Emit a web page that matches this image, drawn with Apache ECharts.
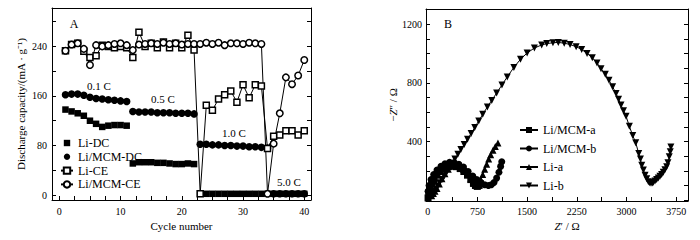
<!DOCTYPE html>
<html><head><meta charset="utf-8">
<script src="https://cdn.jsdelivr.net/npm/echarts@6/dist/echarts.min.js"></script>
<style>html,body{margin:0;padding:0;background:#fff}#c{width:700px;height:240px}</style>
</head><body><div id="c"></div><script>
// ---------- Panel A data ----------
const cycles = [1,2,3,4,5,6,7,8,9,10,11,12,13,14,15,16,17,18,19,20,21,22,23,24,25,26,27,28,29,30,31,32,33,34,35,36,37,38,39,40];
const liDC = [138,135,132,128,120,115,110,112,113,113,112,51,53,53,53,52,52,51,50,50,51,50,2,2,2,2,2,2,2,2,2,2,2,2,2,2,2,2,2,2];
const liMcmDC = [162,163,163,161,158,156,155,154,153,152,151,135,134,134,134,133,133,133,132,132,132,131,82,82,81,81,80,80,79,79,78,78,77,76,2,2,2,2,2,2];
const liCE = [233,243,245,232,222,225,242,240,238,240,238,222,263,240,245,238,247,238,245,238,258,234,2,145,137,155,162,168,150,178,157,178,176,75,95,97,104,104,97,104];
const liMcmCE = [233,243,245,236,210,242,240,242,244,245,242,234,243,244,245,244,246,244,245,243,244,244,244,246,244,246,242,245,245,244,246,245,244,2,83,132,190,179,193,218];
const aXLabels = [0,10,20,30,40];
const aYLabels = [0,80,160,240];
const rateLabels = ['0.1 C','0.5 C','1.0 C','5.0 C'];

// ---------- Panel B data (Z', -Z'') ----------
const liMcmA = [[5,15],[15,45],[35,80],[60,110],[95,140],[140,170],[190,195],[250,215],[310,228],[370,232],[430,228],[490,215],[545,195],[600,170],[650,140],[690,115],[720,100],[750,95],[775,100],[795,112]];
const liMcmB = [[5,60],[20,100],[50,140],[90,175],[140,205],[200,230],[260,248],[330,258],[400,256],[470,245],[540,225],[610,195],[680,165],[740,140],[800,120],[860,105],[915,100],[960,105],[1000,120],[1040,150],[1075,190],[1100,230],[1117,262]];
const liA = [[60,30],[85,45],[110,60],[140,80],[175,110],[215,145],[260,180],[310,210],[365,232],[420,240],[480,232],[540,210],[600,180],[650,145],[690,115],[720,100],[745,95],[770,110],[800,140],[830,175],[860,210],[890,245],[920,280],[950,310],[985,340],[1020,365],[1060,390]];
const liB = [[20,10],[45,25],[70,40],[95,58],[120,75],[150,95],[180,118],[215,140],[250,165],[290,193],[330,222],[370,250],[410,280],[455,312],[500,345],[550,380],[600,415],[655,455],[710,495],[770,540],[830,585],[900,635],[966,680],[1040,730],[1120,785],[1200,840],[1300,905],[1400,960],[1500,1003],[1610,1037],[1720,1058],[1796,1067],[1890,1073],[1971,1075],[2060,1070],[2148,1061],[2240,1046],[2324,1027],[2405,1000],[2484,970],[2555,935],[2615,896],[2680,858],[2736,817],[2790,773],[2842,727],[2880,688],[2917,648],[2955,610],[2993,572],[3043,504],[3094,440],[3139,391],[3185,317],[3210,280],[3230,238],[3255,205],[3280,170],[3305,145],[3330,126],[3350,118],[3370,115],[3390,117],[3405,121],[3430,130],[3455,140],[3480,150],[3505,162],[3530,175],[3555,190],[3580,207],[3606,227],[3625,255],[3645,295],[3660,330],[3670,362]];
const bXLabels = [0,750,1500,2250,3000,3750];
const bYLabels = [400,800,1200];

const FF = '"Liberation Serif","Times New Roman",serif';
const aXTicks = []; for (let v = 0; v <= 40; v += 2.5) aXTicks.push(v);
const aYTicks = []; for (let v = 0; v <= 280; v += 40) aYTicks.push(v);
const bXTicks = []; for (let v = 0; v <= 3750; v += 375) bXTicks.push(v);
const bYTicks = []; for (let v = 0; v <= 1300; v += 100) bYTicks.push(v);

function axisBase(grid, pos, min, max, ticks, labels, margin, showLabels) {
  return {
    type: 'value', gridIndex: grid, position: pos, min: min, max: max,
    axisLine: {show: true, onZero: false, lineStyle: {color: '#000', width: 1}},
    axisTick: {show: true, inside: true, length: 4, lineStyle: {color: '#000'}, customValues: ticks},
    axisLabel: {show: showLabels, customValues: labels, color: '#000', fontFamily: FF, fontSize: 10, margin: margin,
                formatter: function (v) { return String(v); }},
    splitLine: {show: false}
  };
}

function aSeries(name, vals, sym, size, filled, line) {
  return {
    name: name, type: 'line', xAxisIndex: 0, yAxisIndex: 0,
    data: cycles.map((c, i) => [c, vals[i]]),
    symbol: sym, symbolSize: size, showSymbol: true, showAllSymbol: true,
    itemStyle: filled ? {color: '#000', borderColor: '#000', borderWidth: 0} : {color: '#fff', borderColor: '#000', borderWidth: 1.5},
    lineStyle: line ? {color: '#000', width: 1} : {color: '#000', width: 0, opacity: 0},
    emphasis: {disabled: true}, z: filled ? 3 : 4
  };
}
function bSeries(name, pts, sym, rot) {
  return {
    name: name, type: 'line', xAxisIndex: 2, yAxisIndex: 2, data: pts,
    symbol: sym, symbolSize: 7, symbolRotate: rot, showAllSymbol: true,
    itemStyle: {color: '#000'}, lineStyle: {color: '#000', width: 1},
    emphasis: {disabled: true}
  };
}

const chart = echarts.init(document.getElementById('c'), null, {renderer: 'svg'});
const xa = axisBase(0, 'bottom', -1.2, 41.1, aXTicks, aXLabels, 6, true);
xa.name = 'Cycle number'; xa.nameLocation = 'middle'; xa.nameGap = 15;
xa.nameTextStyle = {color: '#000', fontFamily: FF, fontSize: 11};
const ya = axisBase(0, 'left', -8, 302, aYTicks, aYLabels, 5, true);
ya.name = 'Discharge capacity/(mA · g⁻¹)'; ya.nameLocation = 'middle'; ya.nameGap = 26;
ya.nameTextStyle = {color: '#000', fontFamily: FF, fontSize: 11};
const xb = axisBase(1, 'bottom', -26, 3928, bXTicks, bXLabels, 5, true);
xb.name = '{i|Z}′ / Ω'; xb.nameLocation = 'middle'; xb.nameGap = 18;
xb.nameTextStyle = {color: '#000', fontFamily: FF, fontSize: 11, padding: [0, 0, 0, 20], rich: {i: {fontStyle: 'italic', fontFamily: FF, fontSize: 11, color: '#000'}}};
const yb = axisBase(1, 'left', -6, 1303, bYTicks, bYLabels, 4, true);
yb.name = '−{i|Z}″ / Ω'; yb.nameLocation = 'middle'; yb.nameGap = 22;
yb.nameTextStyle = {color: '#000', fontFamily: FF, fontSize: 11, rich: {i: {fontStyle: 'italic', fontFamily: FF, fontSize: 11, color: '#000'}}};

const xaTop = axisBase(0, 'top', -1.2, 41.1, aXTicks, aXLabels, 6, false); xaTop.axisTick.show = false;
const yaRight = axisBase(0, 'right', -8, 302, aYTicks, aYLabels, 5, false);
const xbTop = axisBase(1, 'top', -26, 3928, bXTicks, bXLabels, 5, false); xbTop.axisTick.show = false;
const ybRight = axisBase(1, 'right', -6, 1303, bYTicks, bYLabels, 4, false);

function txt(x, y, s, size) {
  return {type: 'text', x: x, y: y, style: {text: s, fill: '#000', font: size + 'px ' + FF, align: 'center', verticalAlign: 'middle'}, silent: true};
}

chart.setOption({
  animation: false,
  backgroundColor: '#fff',
  grid: [
    {left: 52, top: 8, width: 259, height: 192},
    {left: 426, top: 9, width: 262, height: 192}
  ],
  xAxis: [xa, xaTop, xb, xbTop],
  yAxis: [ya, yaRight, yb, ybRight],
  legend: [
    {data: ['Li-DC', 'Li/MCM-DC', 'Li-CE', 'Li/MCM-CE'], orient: 'vertical', left: 55, top: 132,
     itemWidth: 12, itemHeight: 8, itemGap: 1.8, selectedMode: false,
     textStyle: {color: '#000', fontFamily: FF, fontSize: 12}},
    {data: ['Li/MCM-a', 'Li/MCM-b', 'Li-a', 'Li-b'], orient: 'vertical', left: 514, top: 119,
     itemWidth: 18, itemHeight: 7.5, itemGap: 6.5, selectedMode: false,
     textStyle: {color: '#000', fontFamily: FF, fontSize: 12}}
  ],
  graphic: [
    txt(74, 24, 'A', 12),
    txt(99, 86, rateLabels[0], 11),
    txt(163, 99, rateLabels[1], 11),
    txt(234, 133, rateLabels[2], 11),
    txt(289, 182, rateLabels[3], 11),
    txt(448, 24, 'B', 12)
  ],
  series: [
    aSeries('Li-DC', liDC, 'rect', 6.5, true, false),
    aSeries('Li/MCM-DC', liMcmDC, 'circle', 7.5, true, false),
    aSeries('Li-CE', liCE, 'rect', 6, false, true),
    aSeries('Li/MCM-CE', liMcmCE, 'circle', 6.5, false, true),
    bSeries('Li/MCM-a', liMcmA, 'rect', 0),
    bSeries('Li/MCM-b', liMcmB, 'circle', 0),
    bSeries('Li-a', liA, 'triangle', 0),
    bSeries('Li-b', liB, 'triangle', 180)
  ]
});
</script></body></html>
